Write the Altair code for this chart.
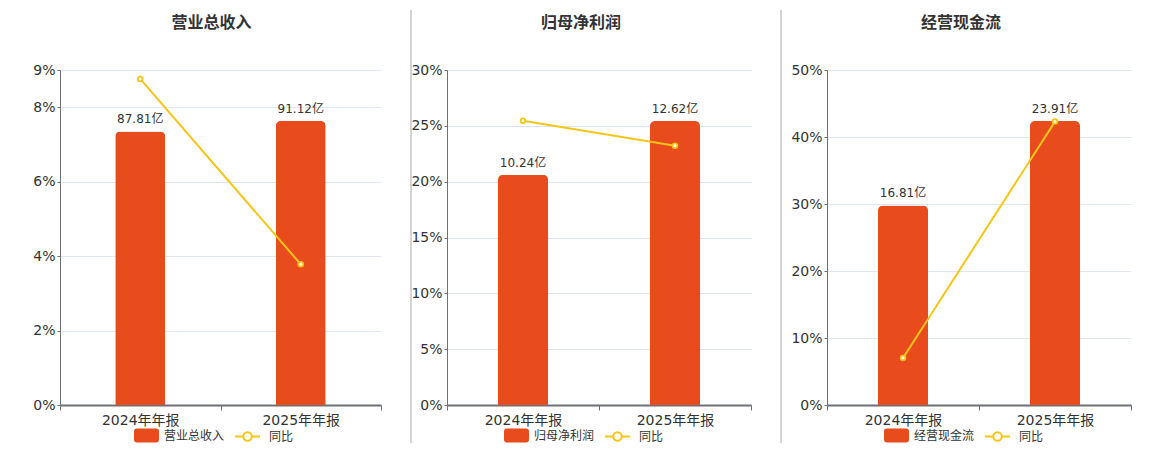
import altair as alt
import pandas as pd

periods = ["2024年年报", "2025年年报"]
titles = ["营业总收入", "归母净利润", "经营现金流"]
amounts = [[87.81, 91.12], [10.24, 12.62], [16.81, 23.91]]
yoy = [[0.0876, 0.0378], [0.2546, 0.2322], [0.0701, 0.4230]]
yoy_max = [0.09, 0.30, 0.50]
yoy_ticks = [
    [0, 0.02, 0.04, 0.06, 0.08, 0.09],
    [0, 0.05, 0.10, 0.15, 0.20, 0.25, 0.30],
    [0, 0.10, 0.20, 0.30, 0.40, 0.50],
]

plot_widths = [321, 304, 304]
title_dx = [-9, -18, -18]
legend_x = [[74, 174], [57, 157], [57, 157]]
PLOT_H = 335
ORANGE = "#E84B1C"
GOLD = "#F5C518"
AXIS_C = "#6E7079"
TEXT_C = "#333333"
FONT = "DejaVu Sans, Noto Sans CJK SC"

RECT_PATH = ("M-0.76,-0.56H0.76Q1,-0.56 1,-0.32V0.32Q1,0.56 0.76,0.56"
             "H-0.76Q-1,0.56 -1,0.32V-0.32Q-1,-0.56 -0.76,-0.56Z")
LINE_PATH = ("M-1,0H-0.34M0.34,0H1M0.34,0A0.34,0.34 0 1,1 -0.34,0"
             "A0.34,0.34 0 1,1 0.34,0")


def panel(i):
    df = pd.DataFrame({
        "period": periods,
        "amount": amounts[i],
        "yoy": yoy[i],
        "s": titles[i],
        "s2": "同比",
    })
    bmax = max(amounts[i]) * 1.18
    base = alt.Chart(df)
    x = alt.X(
        "period:N", sort=periods,
        scale=alt.Scale(domain=periods, paddingInner=0, paddingOuter=0),
        axis=alt.Axis(title=None, labelAngle=0, tickBand="extent", tickSize=5,
                      domainColor=AXIS_C, domainWidth=2, tickColor=AXIS_C,
                      tickWidth=1, labelFontSize=14, labelColor=TEXT_C,
                      labelFont=FONT, labelPadding=3, grid=False),
    )
    ybar = alt.Y("amount:Q", scale=alt.Scale(domain=[0, bmax], nice=False, zero=True), axis=None)
    ypct_scale = alt.Scale(domain=[0, yoy_max[i]], nice=False, zero=True)

    bars = base.mark_bar(size=50, cornerRadiusTopLeft=5, cornerRadiusTopRight=5).encode(
        x=x,
        y=ybar,
        fill=alt.Fill("s:N", scale=alt.Scale(domain=[titles[i]], range=[ORANGE]),
                      legend=alt.Legend(title=None, orient="none",
                                        legendX=legend_x[i][0], legendY=353,
                                        symbolType=RECT_PATH, symbolSize=625,
                                        symbolStrokeWidth=0, labelOffset=5,
                                        labelFontSize=12, labelColor=TEXT_C,
                                        labelFont=FONT)),
    )
    labels = base.transform_calculate(
        lbl="format(datum.amount, '.2f') + '亿'"
    ).mark_text(baseline="bottom", dy=-5, fontSize=12, color=TEXT_C, font=FONT).encode(
        x=x, y=ybar, text="lbl:N"
    )
    stroke_enc = alt.Stroke(
        "s2:N", scale=alt.Scale(domain=["同比"], range=[GOLD]),
        legend=alt.Legend(title=None, orient="none",
                          legendX=legend_x[i][1], legendY=353,
                          symbolType=LINE_PATH, symbolSize=625,
                          symbolStrokeWidth=2, symbolFillColor="#ffffff",
                          labelOffset=8, labelFontSize=12, labelColor=TEXT_C,
                          labelFont=FONT),
    )
    line = base.mark_line(strokeWidth=2).encode(
        x=x,
        y=alt.Y("yoy:Q", scale=ypct_scale,
                axis=alt.Axis(orient="left", values=yoy_ticks[i], format=".0%",
                              title=None, grid=True, gridColor="#E0E6F1",
                              domainColor=AXIS_C, domainWidth=1, tickColor=AXIS_C,
                              tickSize=3, labelFontSize=14, labelColor=TEXT_C,
                              labelFont=FONT, labelPadding=2)),
        stroke=stroke_enc,
    )
    points = base.mark_point(shape="circle", size=22, filled=False, fill="#ffffff",
                             fillOpacity=1, strokeWidth=1.8, opacity=1).encode(
        x=x,
        y=alt.Y("yoy:Q", scale=ypct_scale, axis=None),
        stroke=stroke_enc,
    )
    return alt.layer(bars, labels, line, points).resolve_scale(y="independent").properties(
        width=plot_widths[i], height=PLOT_H,
        title=alt.TitleParams(titles[i], fontSize=16, fontWeight="bold", color=TEXT_C,
                              font=FONT, anchor="middle", frame="group", offset=32,
                              dx=title_dx[i]),
    )


def sep(w):
    return alt.Chart(pd.DataFrame({"k": [0]})).mark_rule(color="#AAAAAA", strokeWidth=1).encode(
        x=alt.value(30), y=alt.value(-60), y2=alt.value(373)
    ).properties(width=w, height=PLOT_H)


chart = alt.hconcat(
    panel(0), sep(66), panel(1), sep(76), panel(2), spacing=0, bounds="flush"
).resolve_scale(
    fill="independent", stroke="independent"
).resolve_legend(
    fill="independent", stroke="independent"
).configure_view(stroke=None).properties(
    padding={"left": 24, "top": 1, "right": 5, "bottom": 5}
)

chart.save("out.html", embed_options={"renderer": "svg", "actions": False})
